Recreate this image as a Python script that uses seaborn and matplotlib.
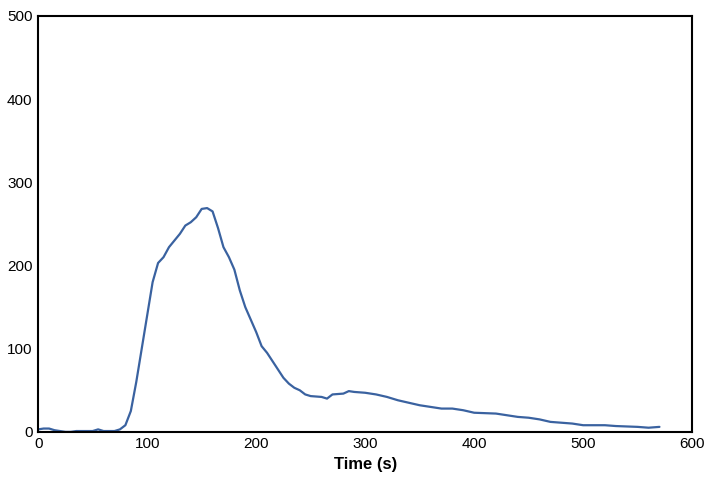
import pandas as pd
import matplotlib
matplotlib.use('Agg')
import matplotlib.pyplot as plt
import seaborn as sns

time_s = [0, 5, 10, 15, 20, 25, 30, 35, 40, 45, 50, 55, 60, 65, 70, 75, 80, 85, 90, 95,
          100, 105, 110, 115, 120, 125, 130, 135, 140, 145, 150, 155, 160, 165, 170, 175,
          180, 185, 190, 195, 200, 205, 210, 215, 220, 225, 230, 235, 240, 245, 250, 260,
          265, 270, 280, 285, 290, 300, 310, 320, 330, 340, 350, 360, 370, 380, 390, 400,
          420, 430, 440, 450, 460, 470, 480, 490, 500, 520, 530, 550, 560, 570]
values = [3, 4, 4, 2, 1, 0, 0, 1, 1, 1, 1, 3, 1, 1, 1, 3, 8, 25, 60, 100,
          140, 180, 203, 210, 222, 230, 238, 248, 252, 258, 268, 269, 265, 245, 222, 210,
          195, 170, 150, 135, 120, 103, 95, 85, 75, 65, 58, 53, 50, 45, 43, 42,
          40, 45, 46, 49, 48, 47, 45, 42, 38, 35, 32, 30, 28, 28, 26, 23,
          22, 20, 18, 17, 15, 12, 11, 10, 8, 8, 7, 6, 5, 6]

df = pd.DataFrame({'time': time_s, 'value': values})

sns.set_style('white')
plt.rcParams['font.family'] = ['Liberation Sans', 'DejaVu Sans']

fig, ax = plt.subplots(figsize=(7.07, 4.82), dpi=100)
sns.lineplot(data=df, x='time', y='value', color='#3a62a0', linewidth=1.6, ax=ax)

ax.set_xlim(0, 600)
ax.set_ylim(0, 500)
ax.set_xticks(range(0, 601, 100))
ax.set_yticks(range(0, 501, 100))
ax.tick_params(length=0, labelsize=11, pad=4, labelcolor='black')
ax.set_xlabel('Time (s)', fontsize=12, fontweight='bold', color='black')
ax.set_ylabel('')
for s in ax.spines.values():
    s.set_color('black')
    s.set_linewidth(1.5)

fig.subplots_adjust(left=0.054, right=0.979, top=0.967, bottom=0.104)
fig.savefig('out.png')
